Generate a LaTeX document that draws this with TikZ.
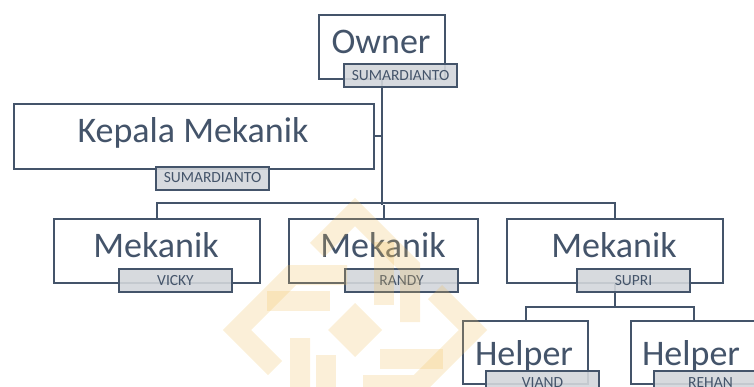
\documentclass[tikz,border=0pt]{standalone}
\usepackage{fontspec}
\setmainfont{Carlito}
\definecolor{boxc}{HTML}{44546A}
\definecolor{tagc}{HTML}{D3D6DB}
\definecolor{wmc}{RGB}{240,190,90}
\begin{document}
\begin{tikzpicture}[x=1pt,y=-1pt,
  orgbox/.style={draw=boxc, line width=2pt, fill=white, rectangle, inner sep=0pt, anchor=north west},
  tagbox/.style={draw=boxc, line width=2pt, fill=tagc, fill opacity=0.9, rectangle, inner sep=0pt, anchor=north west, minimum width=113pt, minimum height=23pt},
  bigtxt/.style={text=boxc, font=\fontsize{36}{36}\selectfont, inner sep=0pt, anchor=base},
  smalltxt/.style={text=boxc, font=\fontsize{15.5}{15.5}\selectfont, inner sep=0pt, anchor=base},
  conn/.style={draw=boxc, line width=2pt},
  wm/.style={draw=wmc, line width=20pt, line join=miter, opacity=0.24}
]
\useasboundingbox (0,0) rectangle (754,387);
\clip (0,0) rectangle (754,387);

% boxes
\node[orgbox, minimum width=126pt, minimum height=64pt] (own) at (318,14) {};
\node[orgbox, minimum width=360pt, minimum height=65pt] (kep) at (13,103) {};
\node[orgbox, minimum width=206pt, minimum height=64pt] (m1) at (53,218) {};
\node[orgbox, minimum width=189pt, minimum height=64pt] (m2) at (288,218) {};
\node[orgbox, minimum width=216pt, minimum height=64pt] (m3) at (506,218) {};
\node[orgbox, minimum width=125pt, minimum height=63pt] (h1) at (462,320) {};
\node[orgbox, minimum width=125pt, minimum height=63pt] (h2) at (630,320) {};

% connectors
\draw[conn] (own.south) -- ++(0,125) coordinate (busc);
\draw[conn] (kep.east) -- (kep.east -| own.south);
\draw[conn] (m1.north) -- ++(0,-15) -| (m3.north);
\draw[conn] (m2.north) -- (m2.north |- busc);
\draw[conn] (m3.south) -- ++(0,23) coordinate (hbus);
\draw[conn] (h1.north) -- (h1.north |- hbus) -| (h2.north);

% labels
\node[bigtxt] (townr) at (381,54) {Owner};
\node[bigtxt] (tkep) at (193,143) {Kepala Mekanik};
\node[bigtxt] (tm1) at (156,257) {Mekanik};
\node[bigtxt] (tm2) at (383,257) {Mekanik};
\node[bigtxt] (tm3) at (614,257) {Mekanik};
\node[bigtxt] (th1) at (524,365) {Helper};
\node[bigtxt] (th2) at (691,365) {Helper};

% name tags
\node[tagbox] (gown) at (343,63) {};
\node[tagbox] (gkep) at (155,166) {};
\node[tagbox] (gm1) at (118,268) {};
\node[tagbox] (gm2) at (344,268) {};
\node[tagbox] (gm3) at (576,268) {};
\node[tagbox] (gh1) at (485,370) {};
\node[tagbox] (gh2) at (653,370) {};
\node[smalltxt] (sown) at (gown.center |- 0,81) {SUMARDIANTO};
\node[smalltxt] (skep) at (gkep.center |- 0,183) {SUMARDIANTO};
\node[smalltxt] (sm1) at (gm1.center |- 0,285) {VICKY};
\node[smalltxt] (sm2) at (gm2.center |- 0,285) {RANDY};
\node[smalltxt] (sm3) at (gm3.center |- 0,285) {SUPRI};
\node[smalltxt] (sh1) at (gh1.center |- 0,387) {VIAND};
\node[smalltxt] (sh2) at (gh2.center |- 0,387) {REHAN};

% watermark (faint logo)
\begin{scope}[shift={(355,330)}]
  \fill[wmc, opacity=0.24] (0,-27) -- (27,0) -- (0,27) -- (-27,0) -- cycle;
  \foreach \r in {0,90,180,270}{
    \begin{scope}[rotate=\r]
      \draw[wm] (-38,-80) -- (0,-118) -- (55,-63) -- (55,-8);
      \draw[wm] (-88,-29) -- (-25,-29);
    \end{scope}
  }
\end{scope}
\end{tikzpicture}
\end{document}
